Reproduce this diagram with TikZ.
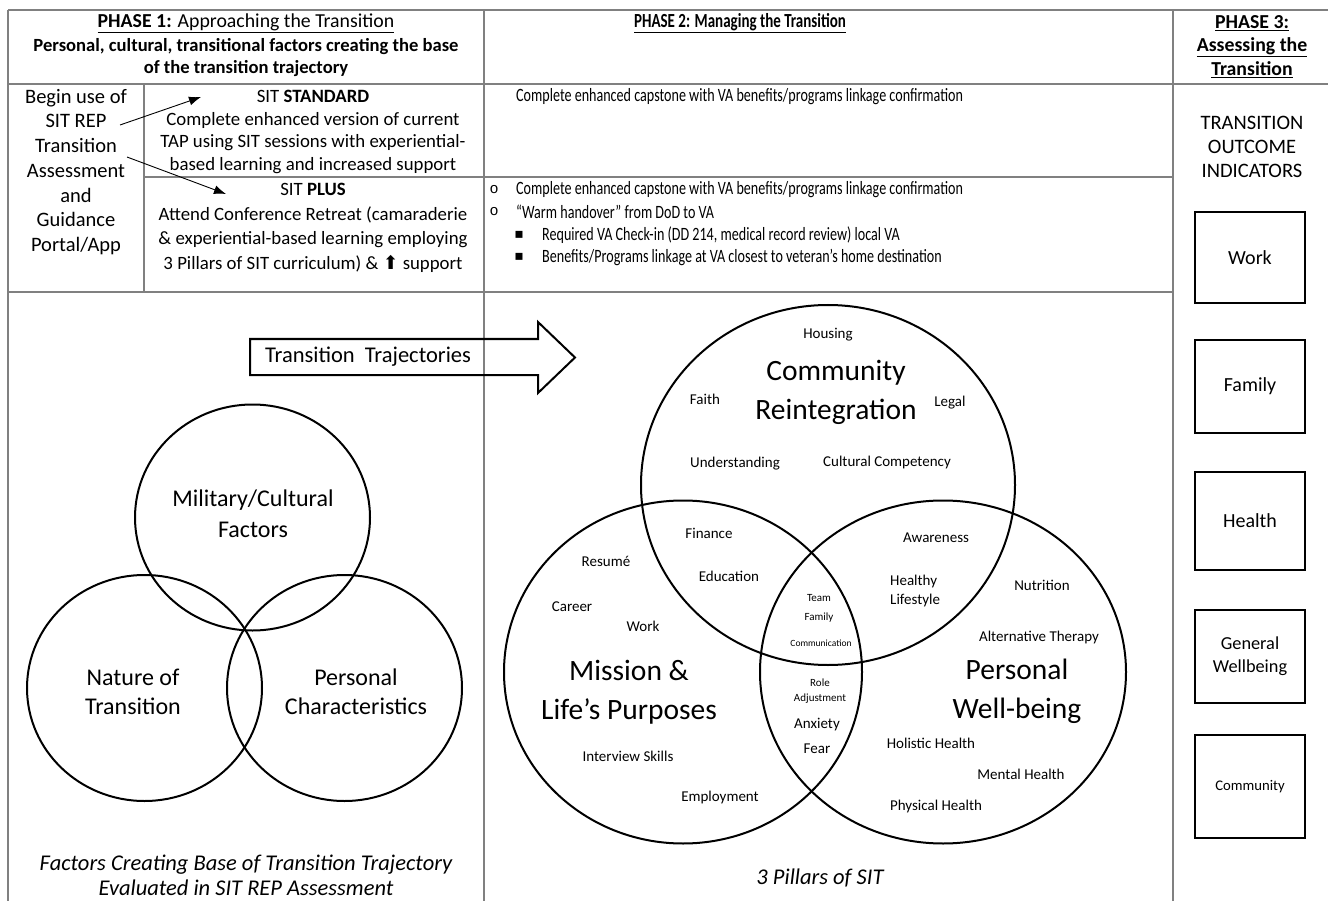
\documentclass[tikz,border=0pt]{standalone}
\usepackage{fontspec}
\setmainfont{Carlito}
\newfontfamily\narrowfont[FakeStretch=0.75]{Carlito}
\newfontfamily\symbfont{DejaVu Sans}
\newfontfamily\bulletfont{Liberation Mono}
\usetikzlibrary{arrows.meta}
\newcommand{\fsz}[2]{\fontsize{#1}{#2}\selectfont}

\begin{document}
\begin{tikzpicture}[x=1pt,y=-1pt,
  rule/.style={draw=black!50,line width=1.3pt},
  ring/.style={draw=black,line width=2pt},
  lbl/.style={inner sep=0pt,align=center},
  body/.style={lbl,font=\fsz{18.8}{22.7}},
  narrow/.style={inner sep=0pt,anchor=west,font=\narrowfont\fsz{18.8}{22.7}},
  vsmall/.style={lbl,font=\fsz{15}{19}},
  vtiny/.style={lbl,font=\fsz{11}{15}},
  vbig/.style={lbl,font=\fsz{29.5}{39}},
  outcome/.style={draw=black,line width=1.8pt,minimum width=110pt,align=center,inner sep=2pt,font=\fsz{20}{23}}]
\useasboundingbox (0,0) rectangle (1328,901);

% table rules
\draw[rule] (8,10) -- (1328,10);
\draw[rule] (8,84) -- (1328,84);
\draw[rule] (144,177) -- (1173,177);
\draw[rule] (8,292) -- (1173,292);
\draw[rule] (8,10) -- (8,901);
\draw[rule] (144,84) -- (144,292);
\draw[rule] (484,10) -- (484,901);
\draw[rule] (1173,10) -- (1173,901);

% headers
\node[lbl,font=\fsz{19.8}{24}] (ph1) at (246,23) {\underline{\textbf{PHASE 1:} Approaching the Transition}};
\node[lbl,font=\bfseries\fsz{18.6}{22}] (ph1b) at (246,58) {Personal, cultural, transitional factors creating the base\\of the transition trajectory};
\node[lbl,font=\narrowfont\bfseries\fsz{20}{24}] (ph2) at (740,23) {\underline{PHASE 2: Managing the Transition}};
\node[lbl,font=\bfseries\fsz{19.8}{23.5}] (ph3) at (1252,46.5) {\underline{PHASE 3:}\\\underline{Assessing the}\\\underline{Transition}};

% phase 1 rows
\node[lbl,font=\fsz{20.5}{24.7}] (app) at (76,172) {Begin use of\\SIT REP\\Transition\\Assessment\\and\\Guidance\\Portal/App};
\node[body] (std) at (313,132) {SIT \textbf{STANDARD}\\Complete enhanced version of current\\TAP using SIT sessions with experiential-\\based learning and increased support};
\node[lbl,font=\fsz{18.8}{24.7}] (plus) at (313,228) {SIT \textbf{PLUS}\\Attend Conference Retreat (camaraderie\\\& experiential-based learning employing\\3 Pillars of SIT curriculum) \& {\symbfont ⬆} support};
\coordinate (rep) at (120,125);
\coordinate (rep2) at (127,157);
\coordinate (stdtip) at (201,97);
\coordinate (plustip) at (226,194);
\draw[-{Latex[length=12pt,width=9pt]},line width=0.9pt] (rep) -- (stdtip);
\draw[-{Latex[length=12pt,width=9pt]},line width=0.9pt] (rep2) -- (plustip);

% phase 2 rows
\node[narrow] (cap1) at (516,97) {Complete enhanced capstone with VA benefits/programs linkage confirmation};
\node[lbl,font=\bulletfont\fsz{15}{18}] (o1) at (494,190) {o};
\node[narrow] (cap2) at (516,190) {Complete enhanced capstone with VA benefits/programs linkage confirmation};
\node[lbl,font=\bulletfont\fsz{15}{18}] (o2) at (494,212) {o};
\node[narrow] (hand) at (516,212) {“Warm handover” from DoD to VA};
\node[lbl,font=\symbfont\fsz{14}{18}] (sq1) at (519,235) {▪};
\node[narrow] (chk) at (542,235) {Required VA Check-in (DD 214, medical record review) local VA};
\node[lbl,font=\symbfont\fsz{14}{18}] (sq2) at (519,257) {▪};
\node[narrow] (link) at (542,257) {Benefits/Programs linkage at VA closest to veteran’s home destination};

% phase 3
\node[lbl,font=\fsz{20.5}{24}] (toi) at (1252,147) {TRANSITION\\OUTCOME\\INDICATORS};
\node[outcome,minimum height=91pt] (work) at (1250,257.5) {Work};
\node[outcome,minimum height=93pt] (fam) at (1250,386.5) {Family};
\node[outcome,minimum height=98pt] (hlth) at (1250,521) {Health};
\node[outcome,minimum height=93pt,font=\fsz{18.3}{23}] (gw) at (1250,656.5) {General\\Wellbeing};
\node[outcome,minimum height=103pt,font=\fsz{14.7}{18}] (comm) at (1250,786.5) {Community};

% transition trajectories arrow
\draw[line width=2pt] (250,339) -- (538,339) -- (538,322) -- (575,357.5) -- (538,393) -- (538,375) -- (250,375) -- cycle;
\node[lbl,font=\fsz{22.5}{26}] (traj) at (368,357) {Transition\ \ Trajectories};

% base factors
\draw[ring] (252.5,517.5) ellipse [x radius=117.5pt, y radius=113pt];
\draw[ring] (144.5,688) ellipse [x radius=117.5pt, y radius=113pt];
\draw[ring] (344.5,688) ellipse [x radius=117.5pt, y radius=113pt];
\node[lbl,font=\fsz{24}{31}] (mil) at (253,513.5) {Military/Cultural\\Factors};
\node[lbl,font=\fsz{24}{29}] (nat) at (133,691.5) {Nature of\\Transition};
\node[lbl,font=\fsz{24}{29}] (pers) at (356,691.5) {Personal\\Characteristics};
\node[lbl,font=\itshape\fsz{22.5}{25}] (cap) at (246,875.5) {Factors Creating Base of Transition Trajectory\\Evaluated in SIT REP Assessment};

% 3 pillars
\draw[ring] (828,485) ellipse [x radius=187pt, y radius=180pt];
\draw[ring] (683,672) ellipse [x radius=179pt, y radius=171.5pt];
\draw[ring] (943,672) ellipse [x radius=183pt, y radius=171.5pt];
\node[vbig] (cr) at (836,392.5) {Community\\Reintegration};
\node[vbig] (mlp) at (629,692.5) {Mission \&\\Life’s Purposes};
\node[vbig] (pwb) at (1017,691.5) {Personal\\Well-being};
\node[vsmall] (hous) at (828,335) {Housing};
\node[vsmall] (faith) at (705,399) {Faith};
\node[vsmall] (legal) at (950,403) {Legal};
\node[vsmall] (und) at (735,464) {Understanding};
\node[vsmall] (cc) at (887,462) {Cultural Competency};
\node[vsmall] (fin) at (709,533) {Finance};
\node[vsmall] (edu) at (729,576) {Education};
\node[vsmall] (aw) at (936,538) {Awareness};
\node[vsmall,align=left,anchor=west] (hl) at (890,590.5) {Healthy\\Lifestyle};
\node[vsmall] (res) at (606,561) {Resumé};
\node[vsmall] (car) at (572,607) {Career};
\node[vsmall] (wk) at (643,626) {Work};
\node[vsmall] (int) at (628,756) {Interview Skills};
\node[vsmall] (emp) at (720,797) {Employment};
\node[vsmall] (nut) at (1042,585) {Nutrition};
\node[vsmall] (alt) at (1039,637) {Alternative Therapy};
\node[vsmall] (hol) at (931,743) {Holistic Health};
\node[vsmall] (men) at (1021,774) {Mental Health};
\node[vsmall] (phy) at (936,806) {Physical Health};
\node[vtiny] (team) at (819,598) {Team};
\node[vtiny] (fmly) at (819,618) {Family};
\node[lbl,font=\fsz{9.5}{12}] (comn) at (821,643) {Communication};
\node[vtiny] (role) at (820,691.5) {Role\\Adjustment};
\node[vsmall] (anx) at (817,725) {Anxiety};
\node[vsmall] (fear) at (817,749) {Fear};
\node[lbl,font=\itshape\fsz{22.5}{25}] (pil) at (820,878) {3 Pillars of SIT};
\end{tikzpicture}
\end{document}
